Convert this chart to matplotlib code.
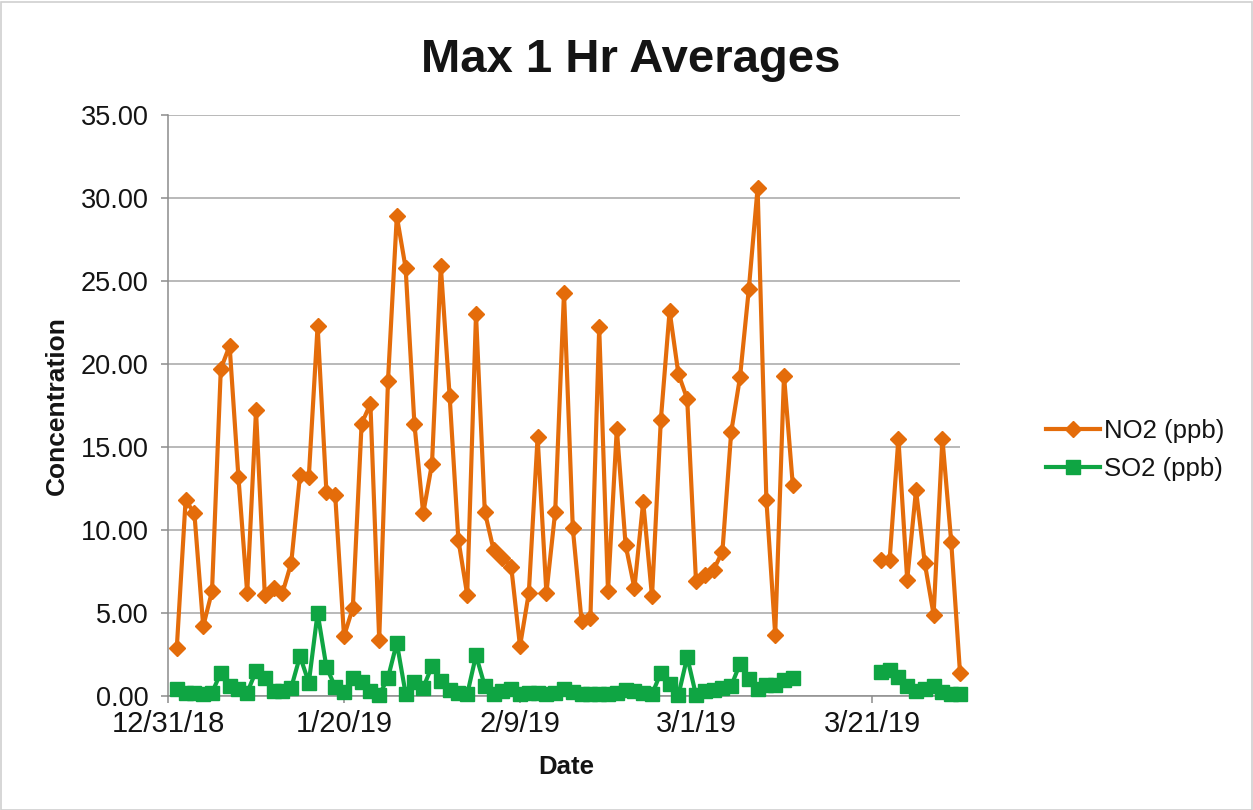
import numpy as np
import pandas as pd
import matplotlib
matplotlib.use("Agg")
import matplotlib.pyplot as plt
from matplotlib.patches import Rectangle

plt.rcParams['font.family'] = ['Liberation Sans', 'DejaVu Sans']

# ---- data ----
start_date = "2019-01-01"
n_days = 90
no2_part1 = [2.9, 11.8, 11.0, 4.2, 6.3, 19.7, 21.1, 13.2, 6.2, 17.2,
             6.1, 6.5, 6.2, 8.0, 13.3, 13.2, 22.3, 12.3, 12.1, 3.6,
             5.3, 16.4, 17.6, 3.4, 19.0, 28.9, 25.8, 16.4, 11.0, 14.0,
             25.9, 18.1, 9.4, 6.1, 23.0, 11.1, 8.8, 8.3, 7.8, 3.0,
             6.2, 15.6, 6.2, 11.1, 24.3, 10.1, 4.5, 4.7, 22.2, 6.3,
             16.1, 9.1, 6.5, 11.7, 6.0, 16.6, 23.2, 19.4, 17.9, 6.9,
             7.3, 7.6, 8.7, 15.9, 19.2, 24.5, 30.6, 11.8, 3.7, 19.3,
             12.7]
no2_part2 = [8.2, 8.2, 15.5, 7.0, 12.4, 8.0, 4.9, 15.5, 9.3, 1.4]
so2_part1 = [0.4, 0.2, 0.2, 0.15, 0.2, 1.4, 0.6, 0.45, 0.2, 1.5,
             1.1, 0.3, 0.3, 0.5, 2.4, 0.8, 5.0, 1.75, 0.55, 0.25,
             1.1, 0.85, 0.3, 0.05, 1.1, 3.2, 0.15, 0.85, 0.5, 1.8,
             0.9, 0.35, 0.2, 0.1, 2.45, 0.6, 0.15, 0.3, 0.4, 0.15,
             0.2, 0.2, 0.15, 0.2, 0.4, 0.25, 0.15, 0.1, 0.1, 0.15,
             0.2, 0.35, 0.3, 0.2, 0.1, 1.4, 0.75, 0.05, 2.35, 0.05,
             0.3, 0.35, 0.5, 0.6, 1.95, 1.0, 0.45, 0.65, 0.65, 0.95,
             1.1]
so2_part2 = [1.45, 1.55, 1.15, 0.6, 0.3, 0.4, 0.6, 0.25, 0.1, 0.15]
gap_days = 9  # missing days between the two parts

tick_dates = ["2018-12-31", "2019-01-20", "2019-02-09", "2019-03-01", "2019-03-21"]
tick_labels = ["12/31/18", "1/20/19", "2/9/19", "3/1/19", "3/21/19"]
x_min, x_max = "2018-12-31", "2019-03-31"
y_ticks = [0, 5, 10, 15, 20, 25, 30, 35]

dates = pd.date_range(start_date, periods=n_days, freq="D")
no2 = np.array(no2_part1 + [np.nan] * gap_days + no2_part2, dtype=float)
so2 = np.array(so2_part1 + [np.nan] * gap_days + so2_part2, dtype=float)

# ---- figure ----
W, H = 1253, 810
fig = plt.figure(figsize=(W / 100, H / 100), dpi=100)
ax = fig.add_axes([168 / W, 1 - 696 / H, (960 - 168) / W, (696 - 115) / H])

orange = '#E46C0A'
green = '#0FA543'
grid_c = '#A6A6A6'
text_c = '#141414'

ax.plot(dates, no2, color=orange, lw=3.0, marker='D', markersize=8,
        label='NO2 (ppb)', clip_on=False, zorder=3)
ax.plot(dates, so2, color=green, lw=3.0, marker='s', markersize=10,
        label='SO2 (ppb)', clip_on=False, zorder=4)

ax.set_ylim(0, 35)
ax.set_yticks(y_ticks)
ax.set_yticklabels([f"{v:.2f}" for v in y_ticks])
ax.set_xlim(pd.Timestamp(x_min), pd.Timestamp(x_max))
ax.set_xticks(pd.to_datetime(tick_dates))
ax.set_xticklabels(tick_labels)

ax.grid(axis='y', color=grid_c, lw=1.1)
ax.set_axisbelow(True)
for s in ['top', 'right']:
    ax.spines[s].set_visible(False)
for s in ['left', 'bottom']:
    ax.spines[s].set_color('#8C8C8C')
    ax.spines[s].set_linewidth(1.1)

ax.tick_params(axis='both', direction='out', length=5, width=1.1,
               color='#8C8C8C', labelcolor=text_c)
ax.tick_params(axis='y', pad=9, labelsize=19.5)
ax.tick_params(axis='x', pad=5, labelsize=21)

fig.text(0.5036, 1 - 72 / H, "Max 1 Hr Averages", ha='center', va='baseline',
         fontsize=34, fontweight='bold', color=text_c)
fig.text(57 / W, 1 - 406 / H, "Concentration", rotation=90, ha='center',
         va='center', fontsize=19, fontweight='bold', color=text_c)
fig.text(566 / W, 1 - 767 / H, "Date", ha='center', va='center',
         fontsize=18.5, fontweight='bold', color=text_c)

leg = fig.legend(loc='center left', bbox_to_anchor=(1046 / W, 1 - 450 / H),
                 frameon=False, fontsize=18.5, handlelength=2.1,
                 handletextpad=0.15, borderpad=0, borderaxespad=0,
                 labelspacing=0.55)
for t in leg.get_texts():
    t.set_color(text_c)

fig.patches.append(Rectangle((0.5 / W, 0.5 / H), 1 - 2 / W, 1 - 2 / H,
                             transform=fig.transFigure, fill=False,
                             edgecolor='#D0D0D0', lw=1.2))

fig.savefig("out.png", dpi=100)
